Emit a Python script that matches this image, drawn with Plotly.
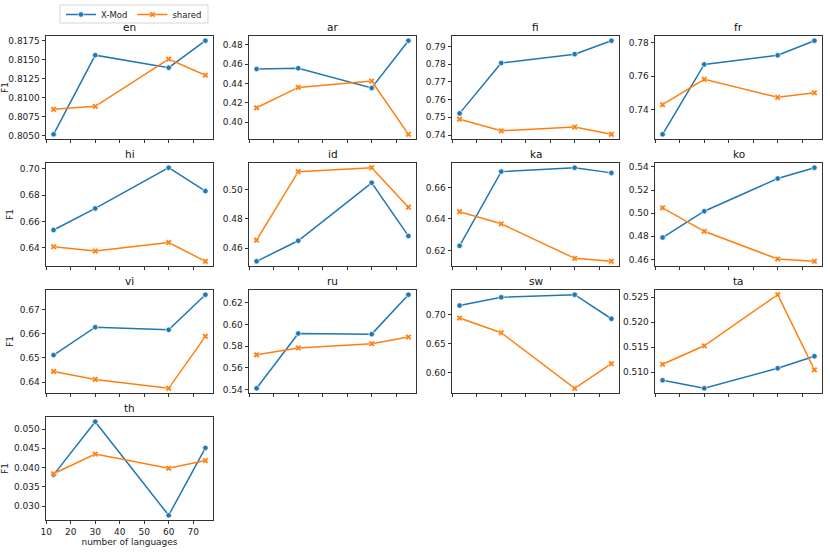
import plotly.graph_objects as go

languages = ["en", "ar", "fi", "fr", "hi", "id", "ka", "ko", "vi", "ru", "sw", "ta", "th"]
num_languages = [13, 30, 60, 75]

xmod = {
    "en": [0.80517, 0.81556, 0.81392, 0.81746],
    "ar": [0.4549, 0.4556, 0.4353, 0.4841],
    "fi": [0.7522, 0.7806, 0.7856, 0.7932],
    "fr": [0.7255, 0.7671, 0.7725, 0.7812],
    "hi": [0.6535, 0.6699, 0.7008, 0.6830],
    "id": [0.4510, 0.4650, 0.5045, 0.4683],
    "ka": [0.6229, 0.6700, 0.6725, 0.6692],
    "ko": [0.4789, 0.5017, 0.5300, 0.5394],
    "vi": [0.6512, 0.6628, 0.6617, 0.6763],
    "ru": [0.5412, 0.5918, 0.5912, 0.6276],
    "sw": [0.7160, 0.7303, 0.7349, 0.6931],
    "ta": [0.5084, 0.5068, 0.5108, 0.5132],
    "th": [0.0381, 0.0519, 0.0276, 0.0451],
}
shared = {
    "en": [0.80845, 0.80884, 0.81504, 0.81293],
    "ar": [0.4149, 0.4359, 0.4424, 0.3875],
    "fi": [0.7489, 0.7424, 0.7445, 0.7404],
    "fr": [0.7431, 0.7582, 0.7475, 0.7502],
    "hi": [0.6408, 0.6375, 0.6440, 0.6297],
    "id": [0.4654, 0.5121, 0.5148, 0.4879],
    "ka": [0.6446, 0.6369, 0.6150, 0.6131],
    "ko": [0.5046, 0.4843, 0.4603, 0.4583],
    "vi": [0.6444, 0.6411, 0.6374, 0.6590],
    "ru": [0.5721, 0.5785, 0.5824, 0.5885],
    "sw": [0.6943, 0.6689, 0.5723, 0.6151],
    "ta": [0.5116, 0.5153, 0.5255, 0.5105],
    "th": [0.0384, 0.0435, 0.0398, 0.0418],
}
y_ticks = {
    "en": [0.8050, 0.8075, 0.8100, 0.8125, 0.8150, 0.8175],
    "ar": [0.40, 0.42, 0.44, 0.46, 0.48],
    "fi": [0.74, 0.75, 0.76, 0.77, 0.78, 0.79],
    "fr": [0.74, 0.76, 0.78],
    "hi": [0.64, 0.66, 0.68, 0.70],
    "id": [0.46, 0.48, 0.50],
    "ka": [0.62, 0.64, 0.66],
    "ko": [0.46, 0.48, 0.50, 0.52, 0.54],
    "vi": [0.64, 0.65, 0.66, 0.67],
    "ru": [0.54, 0.56, 0.58, 0.60, 0.62],
    "sw": [0.60, 0.65, 0.70],
    "ta": [0.510, 0.515, 0.520, 0.525],
    "th": [0.030, 0.035, 0.040, 0.045, 0.050],
}
y_fmt = {"en": ".4f", "ta": ".3f", "th": ".3f"}
x_ticks = [10, 20, 30, 40, 50, 60, 70]

BLUE = "#1f77b4"
ORANGE = "#ff7f0e"
W, H = 830, 554
col_left = [46, 249, 452, 655]
row_top = [36, 163, 290, 417]
pw, ph = 167, 103

fig = go.Figure()
xmin, xmax = min(num_languages), max(num_languages)
xpad = 0.05 * (xmax - xmin)
annotations = []
for i, lang in enumerate(languages):
    r, c = divmod(i, 4)
    n = "" if i == 0 else str(i + 1)
    vals = xmod[lang] + shared[lang]
    lo, hi = min(vals), max(vals)
    pad = 0.05 * (hi - lo)
    x0 = col_left[c] / W
    x1 = (col_left[c] + pw) / W
    y1 = 1 - row_top[r] / H
    y0 = 1 - (row_top[r] + ph) / H
    bottom = (lang == "th")
    fig.add_trace(go.Scatter(
        x=num_languages, y=xmod[lang], mode="lines+markers", name="X-Mod",
        line=dict(color=BLUE, width=1.5),
        marker=dict(symbol="circle", size=5.5, color=BLUE, line=dict(color="white", width=0.7)),
        xaxis="x" + n, yaxis="y" + n, showlegend=(i == 0)))
    fig.add_trace(go.Scatter(
        x=num_languages, y=shared[lang], mode="lines+markers", name="shared",
        line=dict(color=ORANGE, width=1.5),
        marker=dict(symbol="x", size=5.5, color=ORANGE, line=dict(color="white", width=0.5)),
        xaxis="x" + n, yaxis="y" + n, showlegend=(i == 0)))
    axcommon = dict(showgrid=False, zeroline=False, showline=True, mirror=True,
                    linecolor="#333", linewidth=0.8, ticks="outside", ticklen=3.5,
                    tickwidth=0.8, tickcolor="#333", automargin=False,
                    tickfont=dict(family="DejaVu Sans", size=9, color="#222"))
    fig.layout["xaxis" + n] = dict(
        axcommon, domain=[x0, x1], anchor="y" + n,
        range=[xmin - xpad, xmax + xpad], tickvals=x_ticks,
        showticklabels=bottom,
        title=dict(text="number of languages" if bottom else "",
                   font=dict(family="DejaVu Sans", size=9, color="#222"), standoff=2))
    fig.layout["yaxis" + n] = dict(
        axcommon, domain=[y0, y1], anchor="x" + n,
        range=[lo - pad, hi + pad], tickvals=y_ticks[lang],
        tickformat=y_fmt.get(lang, ".2f"),
        title=dict(text="F1" if c == 0 else "",
                   font=dict(family="DejaVu Sans", size=9, color="#222"), standoff=4))
    annotations.append(dict(text=lang, x=(x0 + x1) / 2, y=y1, xref="paper", yref="paper",
                            xanchor="center", yanchor="bottom", yshift=1, showarrow=False,
                            font=dict(family="DejaVu Sans", size=10.5, color="#111")))

legend_cx = 134
fig.update_layout(
    width=W, height=H, margin=dict(l=0, r=0, t=0, b=0),
    plot_bgcolor="white", paper_bgcolor="white",
    annotations=annotations,
    shapes=[dict(type="rect", xref="paper", yref="paper",
                 x0=(legend_cx - 74) / W, x1=(legend_cx + 74) / W,
                 y0=1 - 23 / H, y1=1 - 5 / H,
                 line=dict(color="#cccccc", width=0.8), fillcolor="rgba(0,0,0,0)")],
    legend=dict(orientation="h", x=legend_cx / W, y=1, xanchor="center", yanchor="top",
                borderwidth=0, bgcolor="rgba(0,0,0,0)",
                font=dict(family="DejaVu Sans", size=8.5, color="#222"),
                itemwidth=30, tracegroupgap=0),
)
fig.write_html("out.html", config={"displayModeBar": False},
               post_script="document.body.style.margin='0px';document.body.style.overflow='hidden';")
